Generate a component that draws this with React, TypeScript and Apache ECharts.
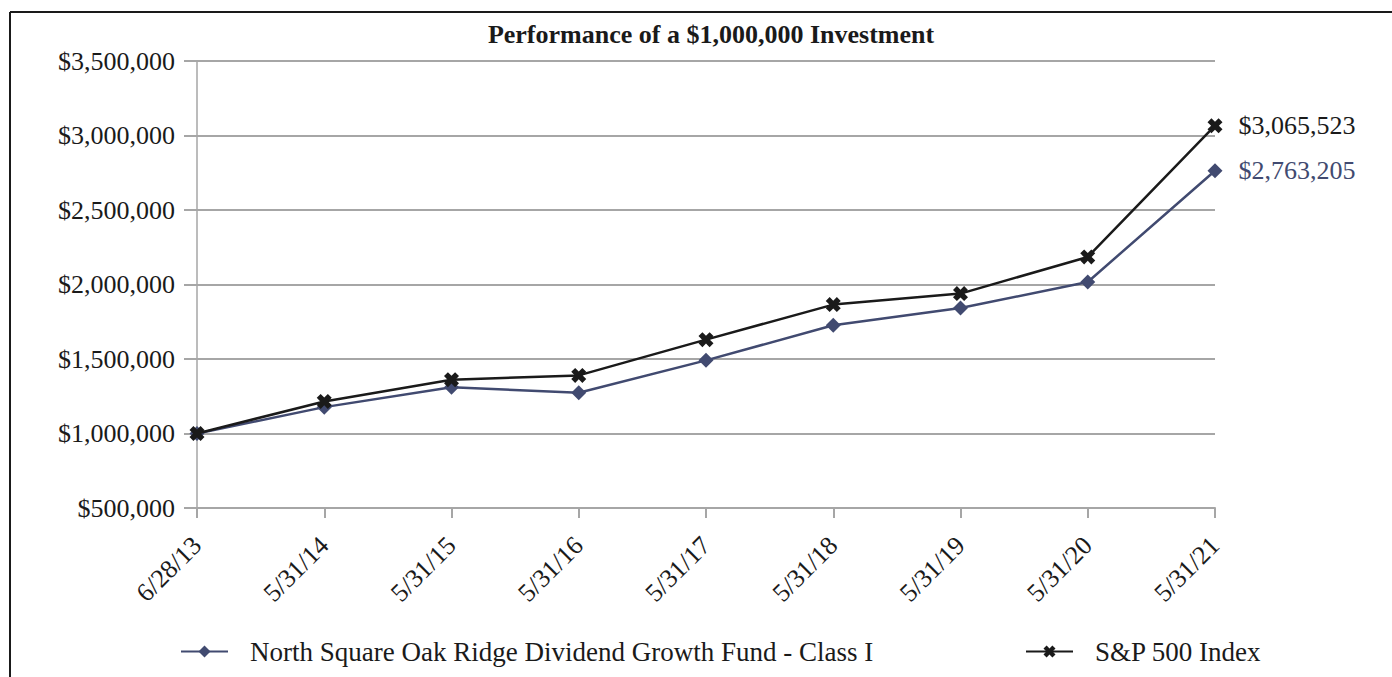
import React, { useEffect, useRef } from "react";
import * as echarts from "echarts";

const categories = ["6/28/13", "5/31/14", "5/31/15", "5/31/16", "5/31/17", "5/31/18", "5/31/19", "5/31/20", "5/31/21"];
const fundName = "North Square Oak Ridge Dividend Growth Fund - Class I";
const spName = "S&P 500 Index";
const fundValues = [1000000, 1177000, 1311000, 1273000, 1491000, 1726000, 1842000, 2017000, 2763205];
const spValues = [1000000, 1215000, 1361000, 1390000, 1630000, 1865000, 1939000, 2185000, 3065523];
const yTicks = { min: 500000, max: 3500000, interval: 500000 };

const FONT = "Liberation Serif";
const FUND_COLOR = "#414a70";
const SP_COLOR = "#1a1a1a";
const GRID_COLOR = "#a6a6a6";
const X_SYMBOL = "path://M0,2.6 L2.6,0 L5,2.4 L7.4,0 L10,2.6 L7.6,5 L10,7.4 L7.4,10 L5,7.6 L2.6,10 L0,7.4 L2.4,5 Z";

const fmt = (v: number) => "$" + Math.round(v).toLocaleString("en-US");

function withEndLabel(values: number[], color: string) {
  return values.map((v, i) =>
    i === values.length - 1
      ? {
          value: v,
          label: {
            show: true,
            position: "right",
            distance: 16,
            formatter: (p: any) => fmt(p.value),
            color,
            fontFamily: FONT,
            fontSize: 26,
          },
        }
      : v
  );
}

export default function App() {
  const ref = useRef<HTMLDivElement>(null);
  useEffect(() => {
    if (!ref.current) return;
    const chart = echarts.init(ref.current, undefined, { renderer: "svg" });
    chart.setOption({
      animation: false,
      backgroundColor: "#ffffff",
      title: {
        text: "Performance of a $1,000,000 Investment",
        left: 706,
        textAlign: "center",
        top: 16,
        textStyle: { fontFamily: FONT, fontSize: 26, fontWeight: "bold", color: "#1a1a1a" },
      },
      graphic: [
        { type: "line", shape: { x1: 10, y1: 12, x2: 1392, y2: 12 }, style: { stroke: "#1a1a1a", lineWidth: 2 } },
        { type: "line", shape: { x1: 10, y1: 12, x2: 10, y2: 677 }, style: { stroke: "#1a1a1a", lineWidth: 2 } },
      ],
      grid: { left: 197, right: 177, top: 61, bottom: 169, containLabel: false },
      legend: [
        {
          data: [fundName],
          left: 175,
          top: 633,
          itemWidth: 47,
          itemHeight: 15,
          textStyle: { fontFamily: FONT, fontSize: 27, color: "#1a1a1a", padding: [0, 0, 0, 17] },
        },
        {
          data: [spName],
          left: 1020,
          top: 633,
          itemWidth: 47,
          itemHeight: 15,
          textStyle: { fontFamily: FONT, fontSize: 27, color: "#1a1a1a", padding: [0, 0, 0, 17] },
        },
      ],
      xAxis: {
        type: "category",
        data: categories,
        boundaryGap: false,
        axisLine: { lineStyle: { color: GRID_COLOR, width: 2 } },
        axisTick: { show: true, length: 10, alignWithLabel: true, lineStyle: { color: GRID_COLOR, width: 2 } },
        axisLabel: { rotate: 45, margin: 33, fontFamily: FONT, fontSize: 26, color: "#1a1a1a" },
        splitLine: { show: false },
      },
      yAxis: {
        type: "value",
        min: yTicks.min,
        max: yTicks.max,
        interval: yTicks.interval,
        axisLine: { show: true, lineStyle: { color: GRID_COLOR, width: 1.5 } },
        axisTick: { show: true, length: 13, lineStyle: { color: GRID_COLOR, width: 2 } },
        axisLabel: { margin: 22, fontFamily: FONT, fontSize: 26, color: "#1a1a1a", formatter: (v: number) => fmt(v) },
        splitLine: { show: true, lineStyle: { color: GRID_COLOR, width: 2 } },
      },
      series: [
        {
          name: fundName,
          type: "line",
          data: withEndLabel(fundValues, FUND_COLOR),
          symbol: "diamond",
          symbolSize: 15,
          itemStyle: { color: FUND_COLOR },
          lineStyle: { color: FUND_COLOR, width: 2.5 },
          z: 2,
        },
        {
          name: spName,
          type: "line",
          data: withEndLabel(spValues, SP_COLOR),
          symbol: X_SYMBOL,
          symbolSize: 15,
          itemStyle: { color: SP_COLOR },
          lineStyle: { color: SP_COLOR, width: 2.5 },
          z: 3,
        },
      ],
    });
    return () => chart.dispose();
  }, []);
  return <div ref={ref} style={{ position: "fixed", left: 0, top: 0, width: 1392, height: 677 }} />;
}
